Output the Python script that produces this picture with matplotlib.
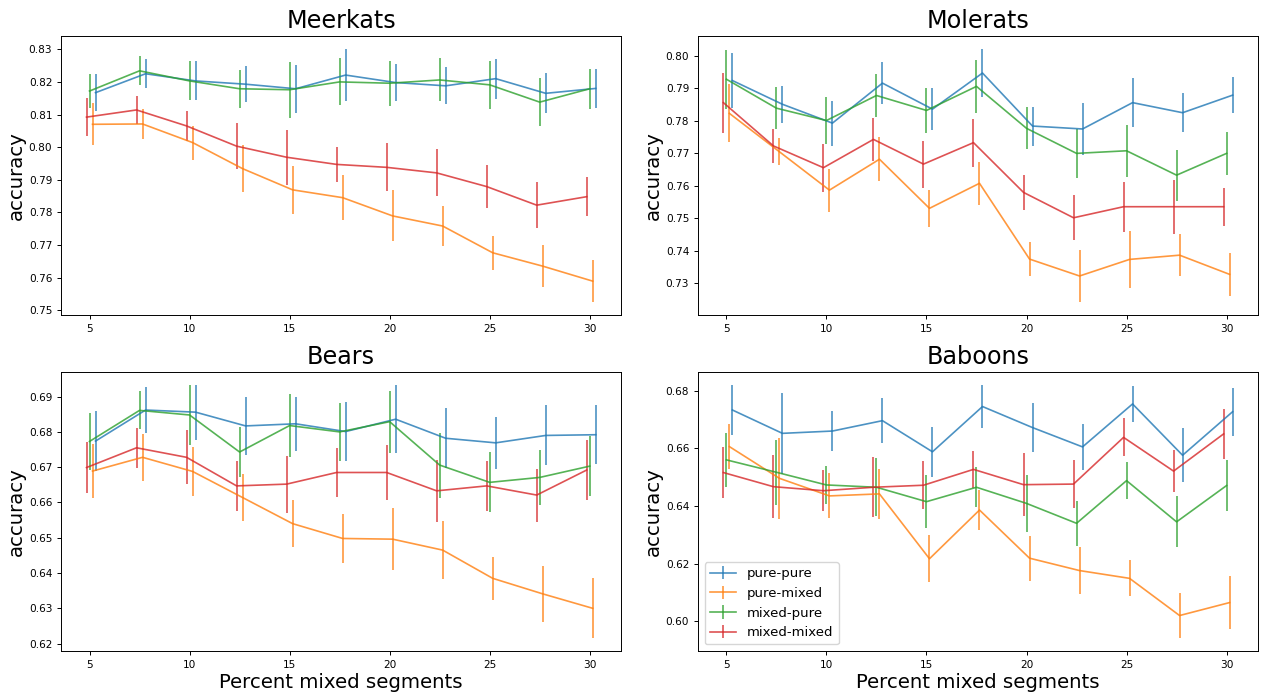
import matplotlib
matplotlib.use('Agg')
import matplotlib.pyplot as plt
import numpy as np

x = np.array([5, 7.5, 10, 12.5, 15, 17.5, 20, 22.5, 25, 27.5, 30])
labels = ['pure-pure', 'pure-mixed', 'mixed-pure', 'mixed-mixed']
offsets = {'pure-pure': 0.3, 'pure-mixed': 0.15, 'mixed-pure': 0.0, 'mixed-mixed': -0.15}

# Meerkats
meer_pp = [0.8167, 0.8225, 0.8203, 0.8193, 0.8179, 0.8221, 0.8198, 0.8188, 0.8210, 0.8165, 0.8180]
meer_pp_err = [0.0056, 0.0044, 0.0060, 0.0055, 0.0074, 0.0081, 0.0057, 0.0057, 0.0061, 0.0061, 0.0061]
meer_pm = [0.8070, 0.8071, 0.8014, 0.7934, 0.7869, 0.7845, 0.7789, 0.7758, 0.7676, 0.7635, 0.7589]
meer_pm_err = [0.0064, 0.0045, 0.0052, 0.0073, 0.0074, 0.0069, 0.0078, 0.0062, 0.0052, 0.0065, 0.0065]
meer_mp = [0.8172, 0.8234, 0.8203, 0.8179, 0.8176, 0.8200, 0.8196, 0.8206, 0.8191, 0.8138, 0.8179]
meer_mp_err = [0.0052, 0.0045, 0.0060, 0.0058, 0.0086, 0.0072, 0.0069, 0.0066, 0.0073, 0.0073, 0.0061]
meer_mm = [0.8092, 0.8114, 0.8065, 0.8003, 0.7969, 0.7947, 0.7938, 0.7921, 0.7879, 0.7822, 0.7848]
meer_mm_err = [0.0058, 0.0042, 0.0045, 0.0070, 0.0085, 0.0054, 0.0074, 0.0072, 0.0065, 0.0071, 0.0059]

# Molerats
mole_pp = [0.7924, 0.7851, 0.7793, 0.7916, 0.7836, 0.7947, 0.7784, 0.7775, 0.7856, 0.7825, 0.7879]
mole_pp_err = [0.0084, 0.0057, 0.0069, 0.0065, 0.0064, 0.0075, 0.0060, 0.0080, 0.0075, 0.0060, 0.0056]
mole_pm = [0.7823, 0.7705, 0.7587, 0.7682, 0.7531, 0.7608, 0.7375, 0.7323, 0.7374, 0.7387, 0.7328]
mole_pm_err = [0.0089, 0.0041, 0.0066, 0.0067, 0.0056, 0.0066, 0.0053, 0.0081, 0.0087, 0.0065, 0.0066]
mole_mp = [0.7928, 0.7839, 0.7801, 0.7878, 0.7832, 0.7906, 0.7777, 0.7700, 0.7708, 0.7633, 0.7700]
mole_mp_err = [0.0091, 0.0064, 0.0072, 0.0067, 0.0069, 0.0081, 0.0065, 0.0076, 0.0080, 0.0078, 0.0066]
mole_mm = [0.7856, 0.7723, 0.7656, 0.7743, 0.7667, 0.7733, 0.7580, 0.7502, 0.7536, 0.7536, 0.7536]
mole_mm_err = [0.0092, 0.0052, 0.0074, 0.0066, 0.0072, 0.0074, 0.0053, 0.0069, 0.0077, 0.0083, 0.0058]

# Bears
bear_pp = [0.6774, 0.6862, 0.6856, 0.6817, 0.6823, 0.6801, 0.6836, 0.6782, 0.6769, 0.6790, 0.6792]
bear_pp_err = [0.0084, 0.0065, 0.0078, 0.0082, 0.0076, 0.0084, 0.0096, 0.0085, 0.0074, 0.0085, 0.0083]
bear_pm = [0.6689, 0.6728, 0.6688, 0.6614, 0.6540, 0.6498, 0.6496, 0.6465, 0.6385, 0.6341, 0.6300]
bear_pm_err = [0.0077, 0.0066, 0.0069, 0.0067, 0.0067, 0.0070, 0.0087, 0.0083, 0.0060, 0.0080, 0.0085]
bear_mp = [0.6773, 0.6861, 0.6848, 0.6743, 0.6818, 0.6800, 0.6829, 0.6706, 0.6657, 0.6671, 0.6703]
bear_mp_err = [0.0080, 0.0054, 0.0085, 0.0070, 0.0090, 0.0082, 0.0088, 0.0092, 0.0085, 0.0079, 0.0086]
bear_mm = [0.6699, 0.6755, 0.6728, 0.6647, 0.6652, 0.6685, 0.6685, 0.6633, 0.6647, 0.6621, 0.6692]
bear_mm_err = [0.0072, 0.0056, 0.0076, 0.0071, 0.0081, 0.0070, 0.0078, 0.0087, 0.0071, 0.0075, 0.0084]

# Baboons
babo_pp = [0.6733, 0.6652, 0.6660, 0.6696, 0.6588, 0.6745, 0.6672, 0.6605, 0.6754, 0.6576, 0.6727]
babo_pp_err = [0.0087, 0.0140, 0.0070, 0.0078, 0.0087, 0.0076, 0.0086, 0.0081, 0.0062, 0.0094, 0.0083]
babo_pm = [0.6606, 0.6496, 0.6435, 0.6442, 0.6217, 0.6386, 0.6219, 0.6176, 0.6149, 0.6020, 0.6065]
babo_pm_err = [0.0079, 0.0140, 0.0078, 0.0086, 0.0081, 0.0071, 0.0078, 0.0083, 0.0062, 0.0079, 0.0093]
babo_mp = [0.6560, 0.6517, 0.6473, 0.6465, 0.6415, 0.6465, 0.6409, 0.6340, 0.6488, 0.6345, 0.6471]
babo_mp_err = [0.0094, 0.0112, 0.0065, 0.0100, 0.0093, 0.0070, 0.0100, 0.0079, 0.0064, 0.0088, 0.0089]
babo_mm = [0.6516, 0.6467, 0.6453, 0.6465, 0.6472, 0.6527, 0.6474, 0.6476, 0.6638, 0.6521, 0.6650]
babo_mm_err = [0.0088, 0.0110, 0.0072, 0.0104, 0.0084, 0.0064, 0.0110, 0.0084, 0.0066, 0.0072, 0.0086]

panels = [
    ('Meerkats', [meer_pp, meer_pm, meer_mp, meer_mm], [meer_pp_err, meer_pm_err, meer_mp_err, meer_mm_err]),
    ('Molerats', [mole_pp, mole_pm, mole_mp, mole_mm], [mole_pp_err, mole_pm_err, mole_mp_err, mole_mm_err]),
    ('Bears', [bear_pp, bear_pm, bear_mp, bear_mm], [bear_pp_err, bear_pm_err, bear_mp_err, bear_mm_err]),
    ('Baboons', [babo_pp, babo_pm, babo_mp, babo_mm], [babo_pp_err, babo_pm_err, babo_mp_err, babo_mm_err]),
]

plt.rcParams['axes.linewidth'] = 0.7
plt.rcParams['xtick.major.size'] = 2.8
plt.rcParams['ytick.major.size'] = 2.8
plt.rcParams['xtick.major.width'] = 0.7
plt.rcParams['ytick.major.width'] = 0.7

fig, axs = plt.subplots(2, 2, figsize=(12.64, 6.97), dpi=100)
axs = axs.flatten()

for i, (name, ys, errs) in enumerate(panels):
    ax = axs[i]
    for lab, y, e in zip(labels, ys, errs):
        ax.errorbar(x + offsets[lab], y, yerr=e, label=lab, alpha=0.8, linewidth=1.2)
    ax.set_title(name, fontsize=17.2)
    ax.set_ylabel('accuracy', fontsize=14.2, labelpad=2)
    ax.tick_params(labelsize=7.6)
    if i >= 2:
        ax.set_xlabel('Percent mixed segments', fontsize=14.2, labelpad=2)

axs[3].legend(loc='lower left', fontsize=9.5)

fig.subplots_adjust(left=0.0483, right=0.9953, top=0.9484, bottom=0.066, wspace=0.137, hspace=0.204)
plt.savefig('out.png')
